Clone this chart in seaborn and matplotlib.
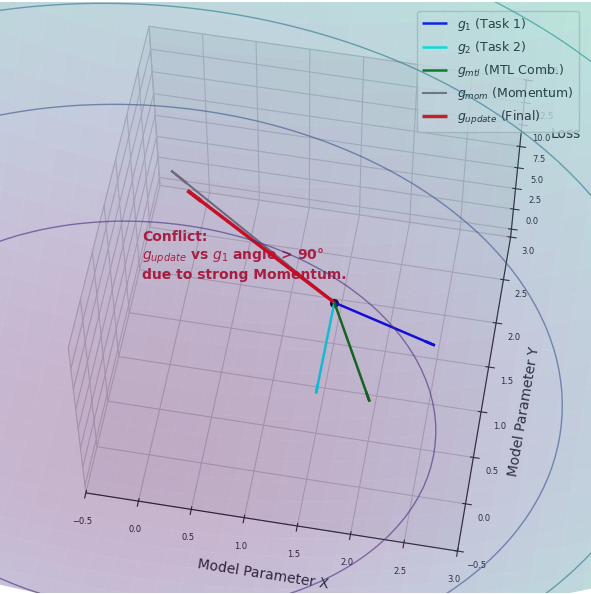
import numpy as np
import matplotlib
matplotlib.use("Agg")
import matplotlib.pyplot as plt
import seaborn as sns

sns.set_style("white")

# point of evaluation and gradient vectors (x, y, z)
p0 = [1.5, 1.5]
vec_names = ['$g_1$ (Task 1)', '$g_2$ (Task 2)', '$g_{mtl}$ (MTL Comb.)',
             '$g_{mom}$ (Momentum)', '$g_{update}$ (Final)']
vec_colors = ['blue', 'cyan', 'green', 'gray', 'red']
vec_dx = [1.0, 0.0, 0.5, -1.8, -1.6]
vec_dy = [-0.3, -1.0, -1.0, 1.2, 1.0]
vec_dz = [0.0, 0.0, 0.0, 0.0, 0.0]
vec_lw = [1.8, 1.8, 1.8, 1.5, 2.5]

def loss(x, y):
    return 0.7 * x ** 2 + 1.2 * y ** 2

x = np.linspace(-2.0, 4.5, 60)
y = np.linspace(-2.0, 4.5, 60)
X, Y = np.meshgrid(x, y)
Z = loss(X, Y)

fig = plt.figure(figsize=(5.91, 5.94), dpi=100)
ax = fig.add_axes([0.0, 0.0, 1.0, 1.0], projection='3d')
ax.plot_surface(X, Y, Z, cmap='viridis', alpha=0.3, linewidth=0, antialiased=True)
ax.contour(X, Y, Z, levels=8, cmap='viridis', alpha=0.6, linewidths=1)

z0 = loss(*p0)
ax.scatter([p0[0]], [p0[1]], [z0], color='black', s=30)
for name, c, dx, dy, dz, lw in zip(vec_names, vec_colors, vec_dx, vec_dy, vec_dz, vec_lw):
    ax.quiver(p0[0], p0[1], z0, dx, dy, dz, color=c, linewidth=lw,
              arrow_length_ratio=0.1, label=name)

ax.set_xlim(-0.5, 3.0)
ax.set_ylim(-0.5, 3.0)
ax.set_zlim(-1, 17.5)
ax.set_xticks(np.arange(-0.5, 3.01, 0.5))
ax.set_yticks(np.arange(-0.5, 3.01, 0.5))
ax.set_zticks(np.arange(0, 17.6, 2.5))
ax.tick_params(labelsize=6)
ax.set_xlabel('Model Parameter X', fontsize=10)
ax.set_ylabel('Model Parameter Y', fontsize=10)
ax.set_zlabel('Loss', fontsize=10)
ax.view_init(elev=58, azim=-80)

ax.text2D(0.24, 0.53, 'Conflict:\n$g_{update}$ vs $g_1$ angle > 90°\ndue to strong Momentum.',
          transform=ax.transAxes, color='#d01c2c', fontsize=10, fontweight='bold')
ax.legend(loc='upper right', fontsize=9, bbox_to_anchor=(0.99, 0.995))

fig.savefig('out.png', dpi=100)
